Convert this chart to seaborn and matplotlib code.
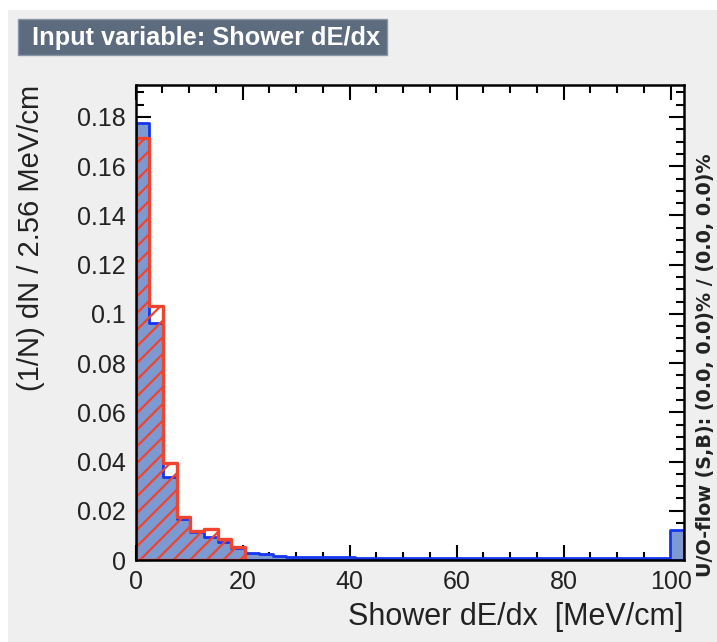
import numpy as np
import pandas as pd
import matplotlib
matplotlib.use("Agg")
import matplotlib.pyplot as plt
import seaborn as sns
from matplotlib.patches import Rectangle
from matplotlib.ticker import MultipleLocator, FixedLocator, FuncFormatter

# ---- data ----
bin_width = 2.56
n_bins = 40
signal = [0.1775, 0.0962, 0.0338, 0.0168, 0.0115, 0.0095, 0.0074, 0.0050,
          0.0030, 0.0023, 0.0017, 0.0012, 0.0012, 0.0012, 0.0012, 0.0012,
          0.0007, 0.0007, 0.0007, 0.0007, 0.0007, 0.0007, 0.0007, 0.0007,
          0.0007, 0.0007, 0.0007, 0.0007, 0.0007, 0.0007, 0.0007, 0.0007,
          0.0007, 0.0007, 0.0007, 0.0007, 0.0007, 0.0007, 0.0007, 0.0122]
background = [0.1715, 0.1033, 0.0393, 0.0174, 0.0119, 0.0125, 0.0084, 0.0054,
              0, 0, 0, 0, 0, 0, 0, 0, 0, 0, 0, 0,
              0, 0, 0, 0, 0, 0, 0, 0, 0, 0, 0, 0,
              0, 0, 0, 0, 0, 0, 0, 0]
x_ticks = [0, 20, 40, 60, 80, 100]
y_ticks = [0, 0.02, 0.04, 0.06, 0.08, 0.1, 0.12, 0.14, 0.16, 0.18]
title = "Input variable: Shower dE/dx"
x_label = "Shower dE/dx  [MeV/cm]"
y_label = "(1/N) dN / 2.56 MeV/cm"
flow_text = "U/O-flow (S,B): (0.0, 0.0)% / (0.0, 0.0)%"

SIG_FILL = "#7d99d1"
SIG_LINE = "#1535f0"
BKG_LINE = "#ee4430"

sns.set_theme(style="white")
plt.rcParams["font.family"] = ["Liberation Sans", "DejaVu Sans"]
plt.rcParams["hatch.color"] = BKG_LINE
plt.rcParams["hatch.linewidth"] = 1.6

W, H = 717, 642
fig = plt.figure(figsize=(W / 100, H / 100), dpi=100, facecolor="white")
# grey canvas
fig.patches.append(Rectangle((8 / W, 0), 1, 1 - 10 / H, transform=fig.transFigure,
                             fc="#efefef", ec="none", zorder=-10))
# title box
fig.patches.append(Rectangle((18 / W, 1 - 55 / H), (387 - 18) / W, 36 / H,
                             transform=fig.transFigure, fc="#5d6b7f", ec="#8a96a6",
                             lw=1, zorder=1))
fig.text(32 / W, 1 - 37.5 / H, title, color="white", fontweight="bold",
         fontsize=18.3, va="center", ha="left", zorder=2)

ax = fig.add_axes([135.5 / W, 1 - 560 / H, (683.5 - 135.5) / W, (560 - 85) / H])
ax.set_facecolor("white")

edges = [i * bin_width for i in range(n_bins + 1)]
centers = [e + bin_width / 2 for e in edges[:-1]]
df = pd.DataFrame({"x": centers, "sig": signal, "bkg": background})

sns.histplot(data=df, x="x", weights="sig", bins=edges, element="step",
             fill=True, color=SIG_FILL, facecolor=SIG_FILL, edgecolor=SIG_LINE,
             linewidth=2.0, alpha=1, ax=ax)

# background: draw only up to the last non-empty bin
last = int(np.nonzero(np.array(background))[0].max()) + 1
df_b = df.iloc[:last]
sns.histplot(data=df_b, x="x", weights="bkg", bins=edges[:last + 1], element="step",
             fill=True, color=BKG_LINE, facecolor="none", edgecolor=BKG_LINE,
             hatch="//", linewidth=2.4, alpha=1, ax=ax)

ax.set_xlim(0, n_bins * bin_width)
ax.set_ylim(0, 0.193)
ax.xaxis.set_major_locator(FixedLocator(x_ticks))
ax.yaxis.set_major_locator(FixedLocator(y_ticks))
ax.xaxis.set_minor_locator(MultipleLocator(5))
ax.yaxis.set_minor_locator(MultipleLocator(0.005))
ax.yaxis.set_major_formatter(FuncFormatter(lambda v, p: f"{v:g}"))
ax.xaxis.set_major_formatter(FuncFormatter(lambda v, p: f"{v:g}"))

ax.tick_params(which="both", direction="in", top=True, right=True, bottom=True,
               left=True, color="black", width=1.5)
ax.tick_params(which="major", length=10.8, labelsize=18, pad=7, labelcolor="#222222")
ax.tick_params(which="minor", length=5.8)
for s in ax.spines.values():
    s.set_visible(True)
    s.set_color("black")
    s.set_linewidth(1.8)

ax.set_ylabel(y_label, fontsize=21, loc="top", color="#222222")
ax.yaxis.set_label_coords(-0.165, 1.0)
ax.set_xlabel(x_label, fontsize=22, loc="right", color="#222222")
ax.xaxis.set_label_coords(1.0, -0.088)

fig.text(705 / W, 1 - 365 / H, flow_text, rotation=90, va="center", ha="center",
         fontsize=13.8, fontweight="bold", color="#222222",
         family=["DejaVu Sans"])

fig.savefig("out.png", dpi=100, facecolor=fig.get_facecolor())
